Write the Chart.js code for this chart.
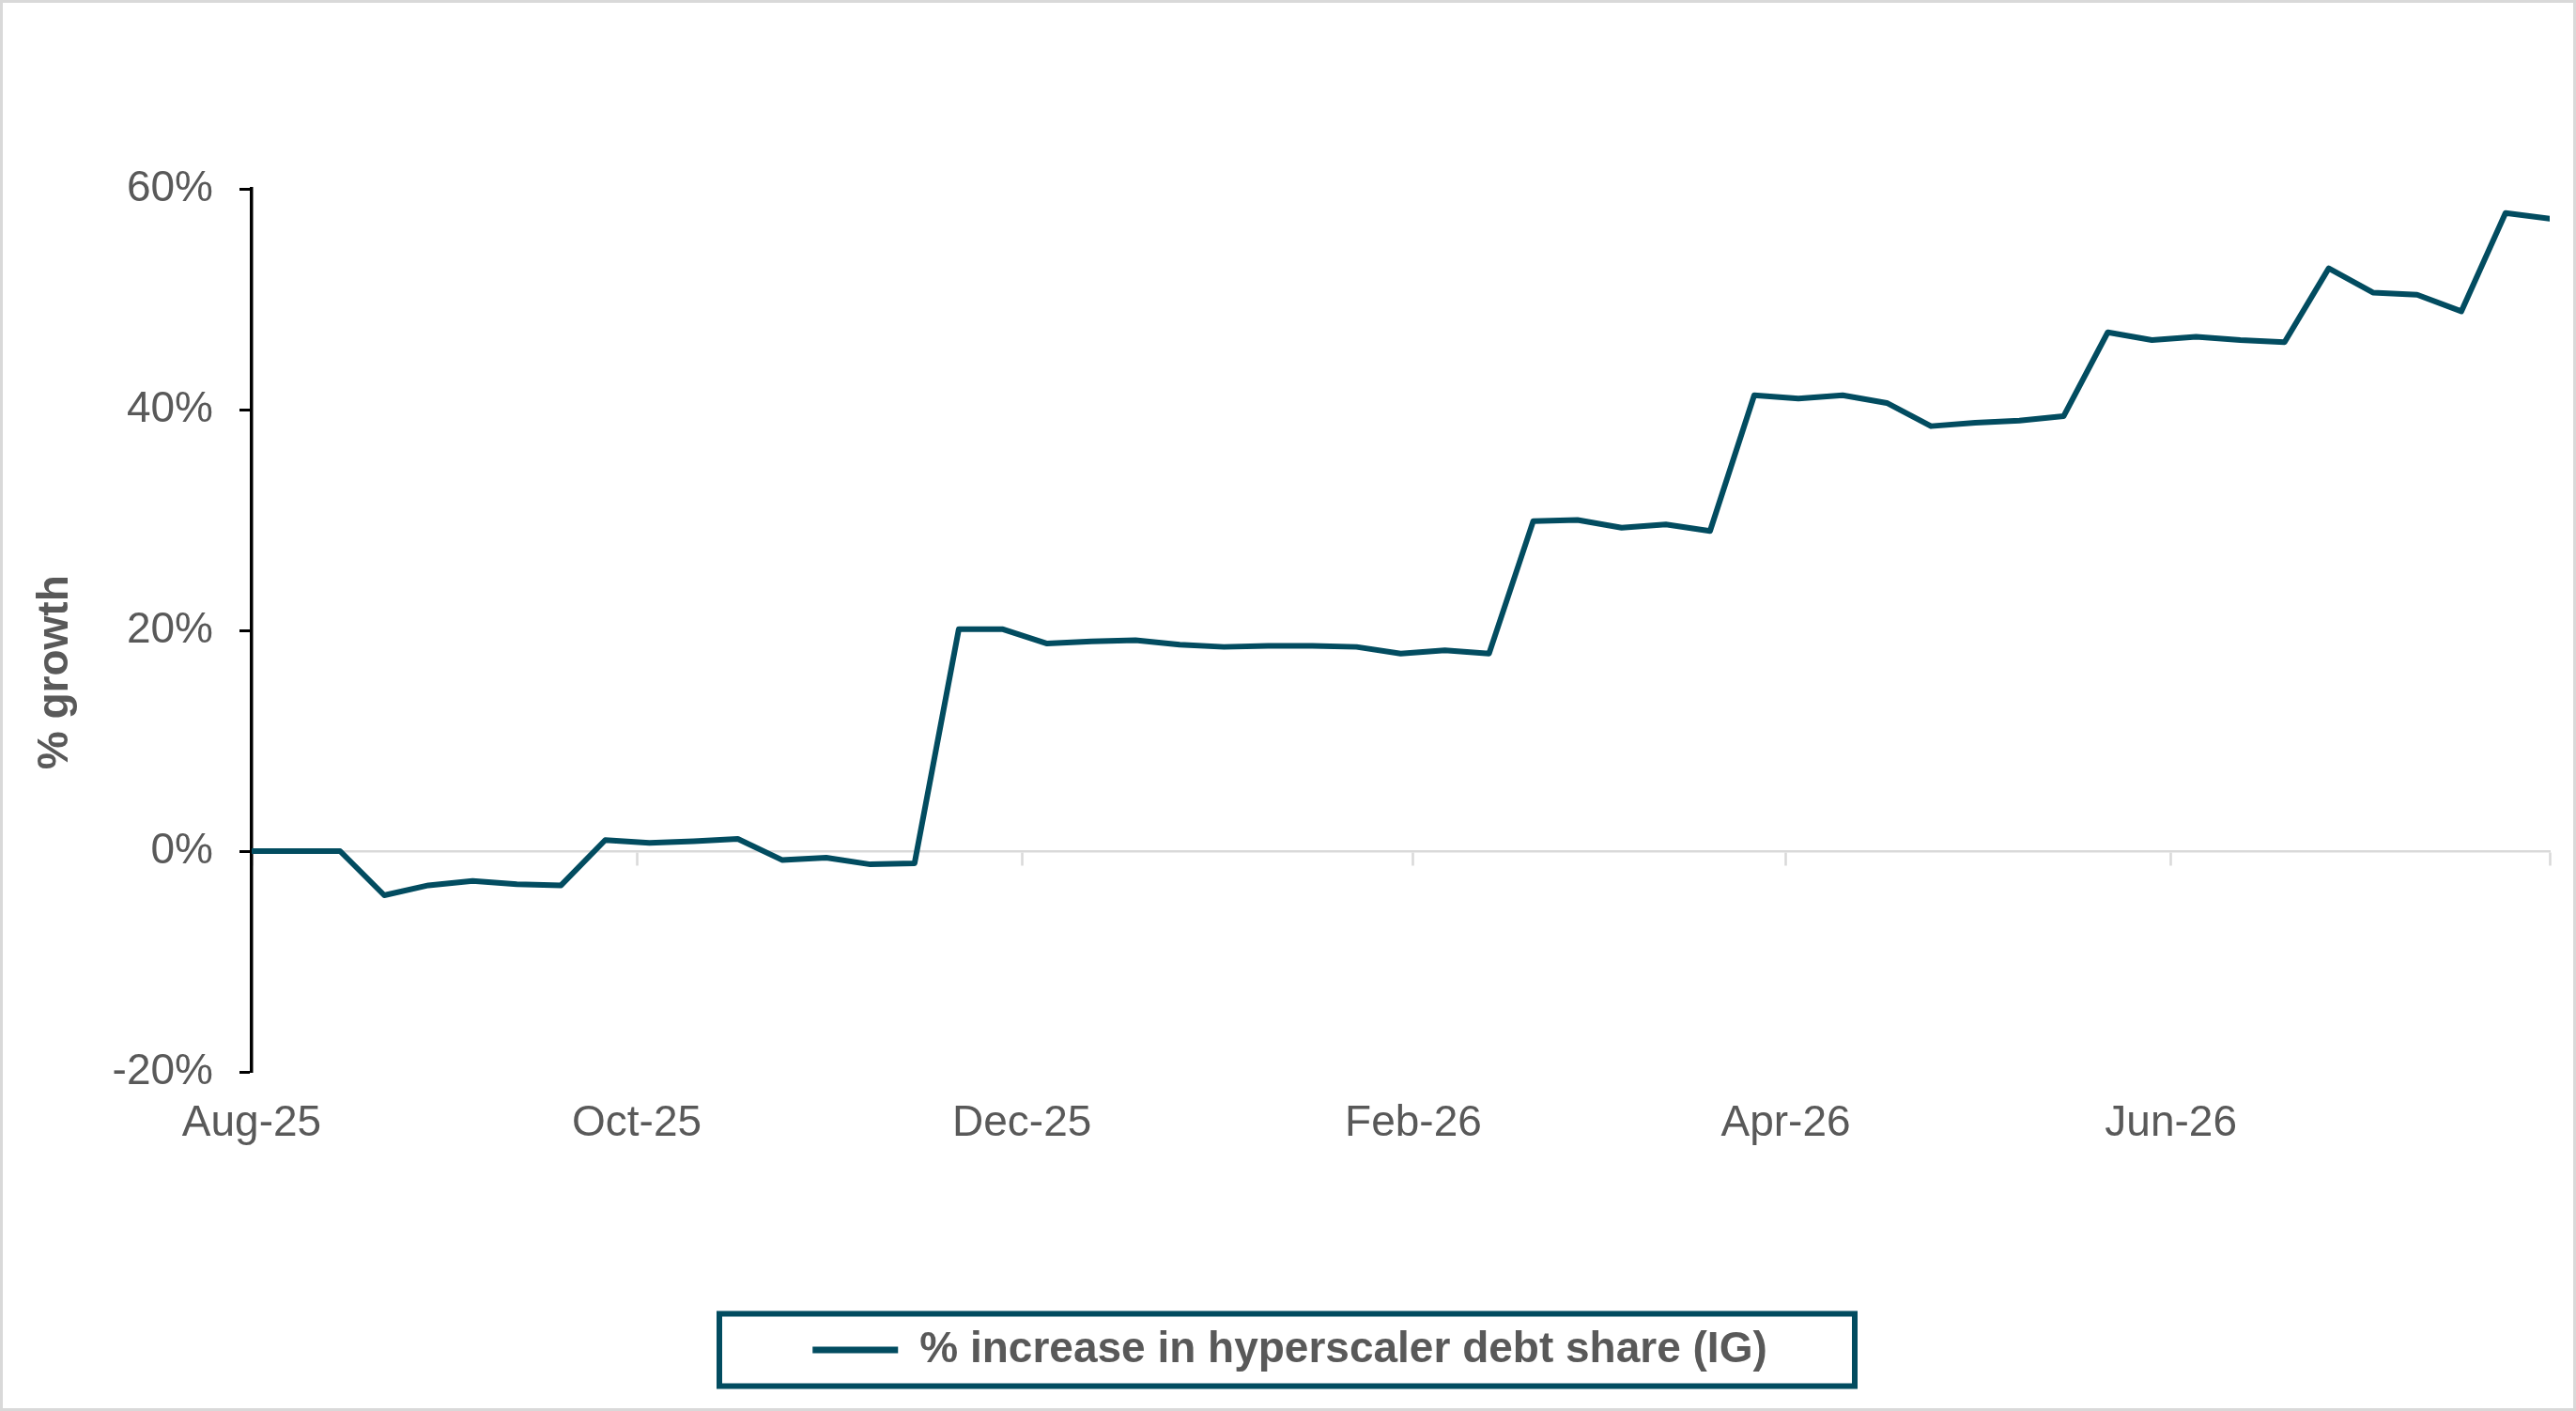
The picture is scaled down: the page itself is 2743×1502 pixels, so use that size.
<!DOCTYPE html>
<html>
<head>
<meta charset="utf-8">
<script src="https://cdn.jsdelivr.net/npm/chart.js@4.4.1/dist/chart.umd.min.js"></script>
<style>
  body { margin: 0; background: #ffffff; }
  #wrap { width: 2743px; height: 1502px; }
</style>
</head>
<body>
<div id="wrap"><canvas id="lineChart" width="2743" height="1502"></canvas></div>
<script>
// weekly observation dates (Fridays)
var weeks = [
  "2025-08-01", "2025-08-08", "2025-08-15", "2025-08-22", "2025-08-29",
  "2025-09-05", "2025-09-12", "2025-09-19", "2025-09-26",
  "2025-10-03", "2025-10-10", "2025-10-17", "2025-10-24", "2025-10-31",
  "2025-11-07", "2025-11-14", "2025-11-21", "2025-11-28",
  "2025-12-05", "2025-12-12", "2025-12-19", "2025-12-26",
  "2026-01-02", "2026-01-09", "2026-01-16", "2026-01-23", "2026-01-30",
  "2026-02-06", "2026-02-13", "2026-02-20", "2026-02-27",
  "2026-03-06", "2026-03-13", "2026-03-20", "2026-03-27",
  "2026-04-03", "2026-04-10", "2026-04-17", "2026-04-24",
  "2026-05-01", "2026-05-08", "2026-05-15", "2026-05-22", "2026-05-29",
  "2026-06-05", "2026-06-12", "2026-06-19", "2026-06-26",
  "2026-07-03", "2026-07-10", "2026-07-17", "2026-07-24", "2026-07-31"
];

// % increase in hyperscaler debt share (IG)
var growth = [
  0.0, 0.0, 0.0, -4.0, -3.1, -2.7, -3.0, -3.1, 1.0,
  0.75, 0.9, 1.1, -0.8, -0.6, -1.2, -1.1, 20.1, 20.1,
  18.8, 19.0, 19.1, 18.7, 18.5, 18.6, 18.6, 18.5, 17.9,
  18.2, 17.9, 29.9, 30.0, 29.3, 29.6, 29.0, 41.3, 41.0,
  41.3, 40.6, 38.5, 38.8, 39.0, 39.4, 47.0, 46.3, 46.6,
  46.3, 46.1, 52.8, 50.6, 50.4, 48.9, 57.8, 57.3
];

// x axis ticks (month starts) and their labels
var monthTicks = ["2025-08-01", "2025-10-01", "2025-12-01", "2026-02-01", "2026-04-01", "2026-06-01"];
var monthLabels = ["Aug-25", "Oct-25", "Dec-25", "Feb-26", "Apr-26", "Jun-26"];
var axisEnd = "2026-07-31";

// y axis ticks (%)
var yTicks = [-20, 0, 20, 40, 60];

var seriesName = "% increase in hyperscaler debt share (IG)";
var lineColor = "#024c60";
var textColor = "#595959";
var fontFamily = "'Liberation Sans', Arial, sans-serif";

// days since the first week
function dayNo(s) {
  return (Date.parse(s) - Date.parse(weeks[0])) / 86400000;
}

var points = weeks.map(function (d, i) {
  return { x: dayNo(d), y: growth[i] };
});
var monthDays = monthTicks.map(dayNo);

// white background, light grey frame, box around the legend
var framePlugin = {
  id: 'frame',
  afterLayout: function (chart) {
    // nudge the legend item a little to the right (like the original)
    chart.legend.left += 16;
    chart.legend.right += 16;
  },
  beforeDraw: function (chart) {
    var c = chart.ctx;
    c.save();
    c.fillStyle = '#ffffff';
    c.fillRect(0, 0, chart.width, chart.height);
    c.restore();
  },
  afterDraw: function (chart) {
    var c = chart.ctx;
    c.save();
    c.strokeStyle = '#d9d9d9';
    c.lineWidth = 3;
    c.strokeRect(1.5, 1.5, chart.width - 3, chart.height - 3);
    var hb = chart.legend.legendHitBoxes[0];
    if (hb) {
      var w = 1209, h = 77;
      var cy = hb.top + hb.height / 2;
      c.strokeStyle = lineColor;
      c.lineWidth = 6;
      c.strokeRect(chart.width / 2 - w / 2 - 1, cy - h / 2, w, h);
    }
    c.restore();
  }
};

var ctx = document.getElementById("lineChart");
var myChart = new Chart(ctx, {
  type: 'line',
  data: {
    datasets: [
      {
        label: seriesName,
        data: points,
        borderColor: lineColor,
        backgroundColor: lineColor,
        borderWidth: 6,
        borderJoinStyle: 'round',
        borderCapStyle: 'round',
        pointRadius: 0,
        tension: 0,
        fill: false,
        xAxisID: 'x',
        yAxisID: 'y'
      }
    ]
  },
  options: {
    responsive: false,
    devicePixelRatio: 1,
    animation: false,
    layout: {
      padding: { left: 0, top: 201, right: 28, bottom: 32 }
    },
    plugins: {
      tooltip: { enabled: false },
      legend: {
        display: true,
        position: 'bottom',
        labels: {
          boxWidth: 91,
          boxHeight: 7,
          padding: 10,
          color: textColor,
          font: { family: fontFamily, size: 46, weight: 'bold' },
          generateLabels: function (chart) {
            return [{
              text: seriesName,
              fillStyle: lineColor,
              strokeStyle: lineColor,
              lineWidth: 0,
              hidden: false,
              datasetIndex: 0,
              fontColor: textColor
            }];
          }
        }
      }
    },
    scales: {
      // bottom axis: month labels only
      x: {
        type: 'linear',
        position: 'bottom',
        min: 0,
        max: dayNo(axisEnd),
        border: { display: false },
        grid: { display: false, drawTicks: false },
        afterBuildTicks: function (scale) {
          scale.ticks = monthDays.map(function (v) { return { value: v }; });
        },
        afterFit: function (scale) {
          scale.height = 263;
        },
        ticks: {
          autoSkip: false,
          maxRotation: 0,
          padding: 28,
          color: textColor,
          font: { family: fontFamily, size: 46 },
          callback: function (value) {
            var i = monthDays.indexOf(value);
            return i >= 0 ? monthLabels[i] : '';
          }
        }
      },
      // horizontal axis line sitting on 0% with tick marks
      x0: {
        type: 'linear',
        axis: 'x',
        position: { y: 0 },
        min: 0,
        max: dayNo(axisEnd),
        border: { display: true, color: '#d9d9d9', width: 2.5 },
        grid: {
          display: true,
          drawOnChartArea: false,
          drawTicks: true,
          tickLength: 14,
          tickWidth: 2.5,
          tickColor: '#d9d9d9'
        },
        afterBuildTicks: function (scale) {
          scale.ticks = monthDays.concat([dayNo(axisEnd)]).map(function (v) { return { value: v }; });
        },
        ticks: { display: false }
      },
      y: {
        type: 'linear',
        position: 'left',
        min: yTicks[0],
        max: yTicks[yTicks.length - 1],
        border: { display: true, color: '#000000', width: 3.5 },
        grid: {
          display: true,
          drawOnChartArea: false,
          drawTicks: true,
          tickLength: 13,
          tickWidth: 3,
          tickColor: '#000000'
        },
        afterBuildTicks: function (scale) {
          scale.ticks = yTicks.map(function (v) { return { value: v }; });
        },
        afterFit: function (scale) {
          scale.width = 268;
        },
        ticks: {
          padding: 28,
          color: textColor,
          font: { family: fontFamily, size: 46 },
          callback: function (value) { return value + '%'; }
        },
        title: {
          display: true,
          text: '% growth\u00a0\u00a0\u00a0\u00a0\u00a0\u00a0\u00a0',
          color: textColor,
          font: { family: fontFamily, size: 46, weight: 'bold' },
          padding: { top: 32, bottom: 0 }
        }
      }
    }
  },
  plugins: [framePlugin]
});
</script>
</body>
</html>
